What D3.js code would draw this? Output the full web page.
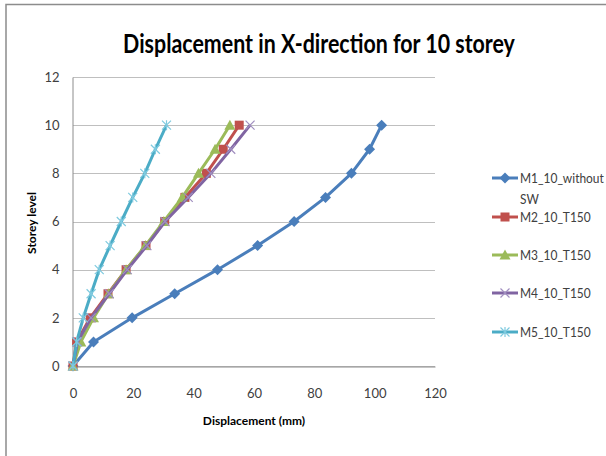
<!DOCTYPE html>
<html>
<head>
<meta charset="utf-8">
<script src="https://cdn.jsdelivr.net/npm/d3@7"></script>
<style>
  html, body { margin: 0; padding: 0; background: #fff; }
  svg { display: block; }
  text { font-family: Lato, "Open Sans", "Liberation Sans", sans-serif; }
</style>
</head>
<body>
<svg id="chart" width="606" height="456"></svg>
<script>
// Storey levels (y) and displacement in mm (x) for each model
const storeys = [0, 1, 2, 3, 4, 5, 6, 7, 8, 9, 10];
const m1 = [0, 6.8, 19.6, 33.7, 47.9, 61.2, 73.3, 83.7, 92.3, 98.3, 102.3];
const m2 = [0, 1.2, 5.7, 11.6, 17.6, 24.2, 30.4, 37.1, 44.2, 49.8, 55.1];
const m3 = [0, 2.6, 6.8, 11.8, 17.6, 24.0, 30.1, 36.2, 41.6, 47.1, 52.0];
const m4 = [0, 1.5, 6.0, 12.0, 18.0, 24.5, 30.5, 38.2, 45.7, 52.3, 58.7];
const m5 = [0, 1.2, 3.4, 6.0, 8.7, 12.3, 16.0, 19.8, 23.8, 27.3, 31.0];

const seriesNames = ["M1_10_without SW", "M2_10_T150", "M3_10_T150", "M4_10_T150", "M5_10_T150"];
const seriesValues = [m1, m2, m3, m4, m5];
const seriesColors = ["#4a7ebb", "#c0504d", "#9bbb59", "#8064a2", "#4bacc6"];
const seriesMarkers = ["diamond", "square", "triangle", "x", "star"];

const xTicks = [0, 20, 40, 60, 80, 100, 120];
const yTicks = [0, 2, 4, 6, 8, 10, 12];

const titleText = "Displacement in X-direction for 10 storey";
const xTitle = "Displacement (mm)";
const yTitle = "Storey level";

const svg = d3.select("#chart");

// squeeze a text horizontally around its anchor so it spans a given width
function fitWidth(sel, width, cx, cy, rotate) {
  const w = sel.node().getComputedTextLength();
  const k = Math.min(1, width / w);
  sel.attr("x", 0).attr("y", 0)
    .attr("transform", `translate(${cx},${cy})${rotate ? ` rotate(${rotate})` : ""} scale(${k},1)`);
}

// chart frame
svg.append("path")
  .attr("d", "M6,456 V4.5 H606")
  .attr("fill", "none")
  .attr("stroke", "#8c8c8c")
  .attr("stroke-width", 1.5);

const x = d3.scaleLinear().domain([0, 120]).range([73, 435]);
const y = d3.scaleLinear().domain([0, 12]).range([366, 77]);

// horizontal gridlines
svg.append("g")
  .selectAll("line")
  .data(yTicks)
  .join("line")
  .attr("x1", x(0)).attr("x2", x(120))
  .attr("y1", d => Math.round(y(d)) + 0.5)
  .attr("y2", d => Math.round(y(d)) + 0.5)
  .attr("stroke", "#bfbfbf")
  .attr("stroke-width", 1);

// y axis
const yAxis = svg.append("g")
  .attr("transform", `translate(${x(0) - 0.5},0)`)
  .call(d3.axisLeft(y).tickValues(yTicks).tickSize(0).tickPadding(13));
yAxis.select(".domain").attr("stroke", "#8c8c8c");
yAxis.selectAll("text").attr("font-size", 13).attr("fill", "#404040");

// x axis
const xAxis = svg.append("g")
  .attr("transform", `translate(0,${Math.round(y(0)) + 0.5})`)
  .call(d3.axisBottom(x).tickValues(xTicks).tickSize(0).tickPadding(22));
xAxis.select(".domain").attr("stroke", "#8c8c8c");
xAxis.selectAll("text").attr("font-size", 13).attr("fill", "#404040");

// titles
const title = svg.append("text")
  .attr("text-anchor", "middle")
  .attr("font-size", 27)
  .attr("font-weight", "bold")
  .attr("fill", "#000")
  .text(titleText);
fitWidth(title, 392, 319, 53);

const xt = svg.append("text")
  .attr("text-anchor", "middle")
  .attr("font-size", 12)
  .attr("font-weight", "bold")
  .attr("fill", "#000")
  .text(xTitle);
fitWidth(xt, 105, 254, 425);

const yt = svg.append("text")
  .attr("text-anchor", "middle")
  .attr("font-size", 12)
  .attr("font-weight", "bold")
  .attr("fill", "#000")
  .text(yTitle);
fitWidth(yt, 80, 36, 223, -90);

// marker drawing
function drawMarker(g, type, color) {
  switch (type) {
    case "diamond":
      g.append("path").attr("d", "M0,-5.5 L5.5,0 L0,5.5 L-5.5,0 Z").attr("fill", color);
      break;
    case "square":
      g.append("rect").attr("x", -4.5).attr("y", -4.5).attr("width", 9).attr("height", 9).attr("fill", color);
      break;
    case "triangle":
      g.append("path").attr("d", "M0,-5.5 L5.5,4.5 L-5.5,4.5 Z").attr("fill", color);
      break;
    case "x":
      g.append("path").attr("d", "M-4.5,-4.5 L4.5,4.5 M-4.5,4.5 L4.5,-4.5")
        .attr("stroke", "#a18fc0").attr("stroke-width", 1.2).attr("fill", "none");
      break;
    case "star":
      g.append("path").attr("d", "M-4.5,-4.5 L4.5,4.5 M-4.5,4.5 L4.5,-4.5 M0,-5 L0,5")
        .attr("stroke", "#7fcadf").attr("stroke-width", 1.2).attr("fill", "none");
      break;
  }
}

const line = d3.line()
  .x(d => x(d[0]))
  .y(d => y(d[1]));

const plot = svg.append("g");
seriesValues.forEach((vals, i) => {
  const pts = vals.map((v, j) => [v, storeys[j]]);
  const sg = plot.append("g");
  sg.append("path")
    .attr("d", line(pts))
    .attr("fill", "none")
    .attr("stroke", seriesColors[i])
    .attr("stroke-width", 3)
    .attr("stroke-linejoin", "round");
  pts.forEach(p => {
    const mg = sg.append("g").attr("transform", `translate(${x(p[0])},${y(p[1])})`);
    drawMarker(mg, seriesMarkers[i], seriesColors[i]);
  });
});

// legend
const legendY = [178, 217, 255, 293, 332];
const legend = svg.append("g");
seriesNames.forEach((name, i) => {
  const g = legend.append("g").attr("transform", `translate(0,${legendY[i]})`);
  g.append("line")
    .attr("x1", 492).attr("x2", 518)
    .attr("stroke", seriesColors[i]).attr("stroke-width", 3);
  const mg = g.append("g").attr("transform", "translate(505,0)");
  drawMarker(mg, seriesMarkers[i], seriesColors[i]);
  const lines = i === 0 ? ["M1_10_without", "SW"] : [name];
  lines.forEach((s, k) => {
    const t = g.append("text")
      .attr("font-size", 13)
      .attr("fill", "#404040")
      .text(s);
    const w = t.node().getComputedTextLength();
    const kx = Math.min(0.92, 84 / w);
    t.attr("transform", `translate(520,${5 + k * 21}) scale(${kx},1)`);
  });
});
</script>
</body>
</html>
